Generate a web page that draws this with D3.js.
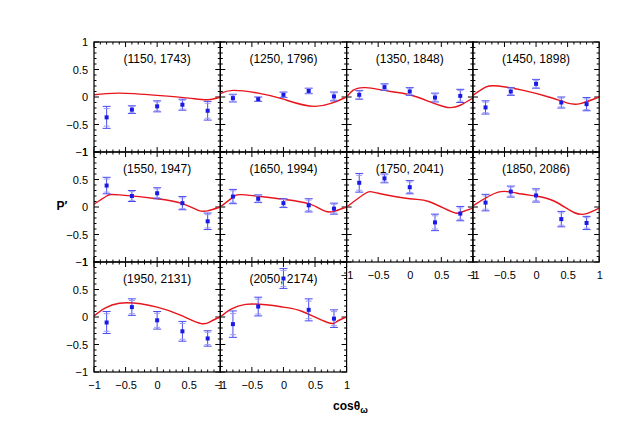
<!DOCTYPE html>
<html><head><meta charset="utf-8">
<script src="https://cdn.jsdelivr.net/npm/d3@7"></script>
<style>body{margin:0;background:#fff}text{font-family:"Liberation Sans",Arial,sans-serif}</style>
</head><body><div id="chart"></div>
<script>
var labels = ["(1150, 1743)","(1250, 1796)","(1350, 1848)","(1450, 1898)","(1550, 1947)",
              "(1650, 1994)","(1750, 2041)","(1850, 2086)","(1950, 2131)","(2050, 2174)"];
var pointX = [-0.8, -0.4, 0, 0.4, 0.8];
var pointY = [
  [-0.37,-0.23,-0.17,-0.14,-0.25],
  [-0.02,-0.04,0.04,0.11,0.01],
  [0.04,0.18,0.10,-0.01,0.02],
  [-0.19,0.10,0.24,-0.10,-0.13],
  [0.39,0.20,0.25,0.07,-0.26],
  [0.19,0.15,0.07,0.03,-0.03],
  [0.44,0.52,0.36,-0.28,-0.12],
  [0.08,0.28,0.21,-0.22,-0.29],
  [-0.10,0.18,-0.06,-0.26,-0.39],
  [-0.13,0.19,0.70,0.13,-0.03]];
var pointErr = [
  [0.20,0.07,0.10,0.10,0.17],
  [0.07,0.04,0.05,0.05,0.08],
  [0.08,0.06,0.07,0.08,0.12],
  [0.12,0.07,0.08,0.10,0.12],
  [0.15,0.10,0.10,0.12,0.15],
  [0.13,0.07,0.08,0.12,0.10],
  [0.17,0.08,0.12,0.15,0.13],
  [0.15,0.10,0.12,0.14,0.12],
  [0.20,0.15,0.16,0.18,0.14],
  [0.24,0.17,0.18,0.20,0.16]];
var curveX = [
  [-1,-0.6,0,0.5,0.8,1],
  [-1,-0.8,-0.4,0,0.5,1],
  [-1,-0.9,-0.7,-0.3,0,0.3,0.6,0.8,1],
  [-1,-0.8,-0.6,-0.2,0.2,0.5,0.7,1],
  [-1,-0.8,-0.6,0,0.4,0.65,0.8,1],
  [-1,-0.8,-0.6,0,0.4,0.65,0.8,1],
  [-1,-0.7,-0.5,0,0.3,0.65,0.8,1],
  [-1,-0.6,-0.3,0,0.3,0.6,0.8,1],
  [-1,-0.6,0,0.4,0.7,0.85,1],
  [-1,-0.6,0,0.3,0.7,0.85,1]];
var curveY = [
  [0.04,0.07,0.03,-0.02,-0.05,0.0],
  [0.06,0.12,0.07,-0.04,-0.17,0.0],
  [0.0,0.12,0.17,0.1,0.04,-0.08,-0.19,-0.15,-0.02],
  [0.03,0.18,0.2,0.12,0.0,-0.11,-0.12,0.0],
  [0.05,0.2,0.22,0.15,0.06,-0.06,-0.07,0.0],
  [0.0,0.18,0.22,0.14,0.06,-0.07,-0.08,0.0],
  [0.0,0.25,0.25,0.15,0.1,-0.08,-0.1,-0.02],
  [0.02,0.27,0.25,0.2,0.1,-0.1,-0.12,-0.02],
  [0.02,0.25,0.18,0.02,-0.12,-0.08,0.0],
  [0.0,0.23,0.18,0.1,-0.1,-0.08,0.0]];
var xTicks = [-1,-0.5,0,0.5,1];
var yTicks = [-1,-0.5,0,0.5,1];

var W = 623, H = 439;
var marginLeft = 94, marginTop = 42, pw = 126.3, ph = 110;
var svg = d3.select("#chart").append("svg").attr("width", W).attr("height", H);

var x = d3.scaleLinear().domain([-1, 1]).range([0, pw]);
var y = d3.scaleLinear().domain([-1, 1]).range([ph, 0]);
var line = d3.line().x(function (d) { return x(d[0]); }).y(function (d) { return y(d[1]); })
    .curve(d3.curveNatural);

labels.forEach(function (lab, i) {
    var col = i % 4, row = Math.floor(i / 4);
    var g = svg.append("g").attr("transform", "translate(" + (marginLeft + col * pw) + "," + (marginTop + row * ph) + ")");
    var cid = "clip" + i;
    g.append("clipPath").attr("id", cid).append("rect").attr("width", pw).attr("height", ph);

    // inner ticks
    var minor = d3.range(-10, 11).map(function (k) { return k / 10; });
    minor.forEach(function (v) {
        var len = (Math.round(v * 10) % 5 === 0) ? 5 : 2.5;
        g.append("line").attr("x1", x(v)).attr("x2", x(v)).attr("y1", 0).attr("y2", len).attr("stroke", "#000");
        g.append("line").attr("x1", x(v)).attr("x2", x(v)).attr("y1", ph).attr("y2", ph - len).attr("stroke", "#000");
        g.append("line").attr("y1", y(v)).attr("y2", y(v)).attr("x1", 0).attr("x2", len).attr("stroke", "#000");
        g.append("line").attr("y1", y(v)).attr("y2", y(v)).attr("x1", pw).attr("x2", pw - len).attr("stroke", "#000");
    });

    var curve = d3.zip(curveX[i], curveY[i]);
    g.append("path").attr("d", line(curve)).attr("fill", "none").attr("stroke", "#e8141c")
        .attr("stroke-width", 1.4).attr("clip-path", "url(#" + cid + ")");

    pointX.forEach(function (px, j) {
        var cx = x(px), v = pointY[i][j], e = pointErr[i][j];
        var y0 = y(v - e), y1 = y(v + e);
        g.append("line").attr("x1", cx).attr("x2", cx).attr("y1", y0).attr("y2", y1).attr("stroke", "#4a4af0").attr("stroke-width", 1);
        [y0, y1].forEach(function (yy) {
            g.append("line").attr("x1", cx - 4).attr("x2", cx + 4).attr("y1", yy).attr("y2", yy).attr("stroke", "#4a4af0").attr("stroke-width", 1);
        });
        g.append("line").attr("x1", cx - 3).attr("x2", cx + 3).attr("y1", y(v - e * 0.8)).attr("y2", y(v - e * 0.8)).attr("stroke", "#9a9af5");
        g.append("line").attr("x1", cx - 3).attr("x2", cx + 3).attr("y1", y(v + e * 0.8)).attr("y2", y(v + e * 0.8)).attr("stroke", "#9a9af5");
        g.append("rect").attr("x", cx - 2).attr("y", y(v) - 2).attr("width", 4).attr("height", 4).attr("fill", "#1a1ae6");
    });

    g.append("rect").attr("width", pw).attr("height", ph).attr("fill", "none").attr("stroke", "#000").attr("stroke-width", 1.2);
    g.append("text").attr("x", pw / 2).attr("y", 21).attr("text-anchor", "middle")
        .attr("font-size", 12).text(lab);

    if (col === 0) {
        var ya = g.append("g").call(d3.axisLeft(y).tickValues(yTicks).tickSize(0).tickPadding(6).tickFormat(d3.format("")));
        ya.select(".domain").remove();
        ya.selectAll("text").attr("font-size", 11).style("font-family", "Liberation Sans, Arial, sans-serif");
    }
    var isBottom = (row === 2) || (row === 1 && col >= 2);
    if (isBottom) {
        var xa = g.append("g").attr("transform", "translate(0," + ph + ")")
            .call(d3.axisBottom(x).tickValues(xTicks).tickSize(0).tickPadding(9).tickFormat(d3.format("")));
        xa.select(".domain").remove();
        xa.selectAll("text").attr("font-size", 11).style("font-family", "Liberation Sans, Arial, sans-serif");
    }
});

svg.append("text").attr("x", 62).attr("y", 210).attr("font-size", 12).attr("font-weight", "bold")
    .attr("text-anchor", "middle").text("P\u2032");
var xl = svg.append("text").attr("x", 333).attr("y", 410).attr("font-size", 12).attr("font-weight", "bold");
xl.append("tspan").text("cos\u03b8");
xl.append("tspan").attr("dy", 3).attr("font-size", 9).text("\u03c9");
</script></body></html>
